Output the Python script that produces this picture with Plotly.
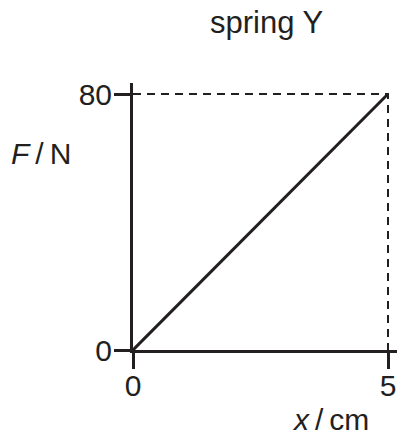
import plotly.graph_objects as go

# Data
x_vals = [0, 5]          # extension x / cm
F_vals = [0, 80]         # force F / N
x_ticks = [0, 5]
x_tick_labels = ["0", "5"]
y_ticks = [0, 80]
y_tick_labels = ["0", "80"]

INK = "#231f20"
FONT = "Liberation Sans, Arial, sans-serif"

fig = go.Figure()

# dashed guide lines from the end point to the axes
fig.add_trace(go.Scatter(
    x=[x_vals[0], x_vals[-1], x_vals[-1]],
    y=[F_vals[-1], F_vals[-1], F_vals[0]],
    mode="lines",
    line=dict(color=INK, width=2, dash="8px,6px"),
    hoverinfo="skip", showlegend=False, cliponaxis=False,
))

# the spring line
fig.add_trace(go.Scatter(
    x=x_vals, y=F_vals, mode="lines",
    line=dict(color=INK, width=3),
    showlegend=False, cliponaxis=False,
))

W, H = 399, 438
L, R, T, B = 133, 2, 83, 88
pw, ph = W - L - R, H - T - B

x_px_per_unit = 51.0
y_px_per_unit = 3.2

fig.update_layout(
    width=W, height=H,
    margin=dict(l=L, r=R, t=T, b=B, pad=0),
    paper_bgcolor="white", plot_bgcolor="white",
    font=dict(family=FONT, size=30, color=INK),
    xaxis=dict(
        range=[0, pw / x_px_per_unit],
        tickvals=x_ticks, ticktext=x_tick_labels,
        ticks="outside", ticklen=16, tickwidth=3, tickcolor=INK,
        showline=True, linewidth=3, linecolor=INK,
        showgrid=False, zeroline=False,
        ticklabelstandoff=-9,
        tickfont=dict(size=30, color=INK, family=FONT),
    ),
    yaxis=dict(
        range=[0, ph / y_px_per_unit],
        tickvals=y_ticks, ticktext=y_tick_labels,
        ticks="outside", ticklen=16, tickwidth=3, tickcolor=INK,
        showline=True, linewidth=3, linecolor=INK,
        showgrid=False, zeroline=False,
        ticklabelstandoff=-4,
        tickfont=dict(size=30, color=INK, family=FONT),
    ),
)

def px_to_paper(px, py):
    return (px - L) / pw, (H - B - py) / ph

annots = [
    ("spring Y", 266, 22, 31),
    ("<i>F</i>\u2009/\u2009N", 41, 153, 30),
    ("<i>x</i>\u2009/\u2009cm", 330, 419, 30),
]
for text, px, py, size in annots:
    ax, ay = px_to_paper(px, py)
    fig.add_annotation(
        text=text, x=ax, y=ay, xref="paper", yref="paper",
        xanchor="center", yanchor="middle", showarrow=False,
        font=dict(size=size, color=INK, family=FONT),
    )

fig.write_html(
    "out.html",
    config={"displayModeBar": False},
    post_script="document.body.style.margin='0';document.body.style.overflow='hidden';",
)
